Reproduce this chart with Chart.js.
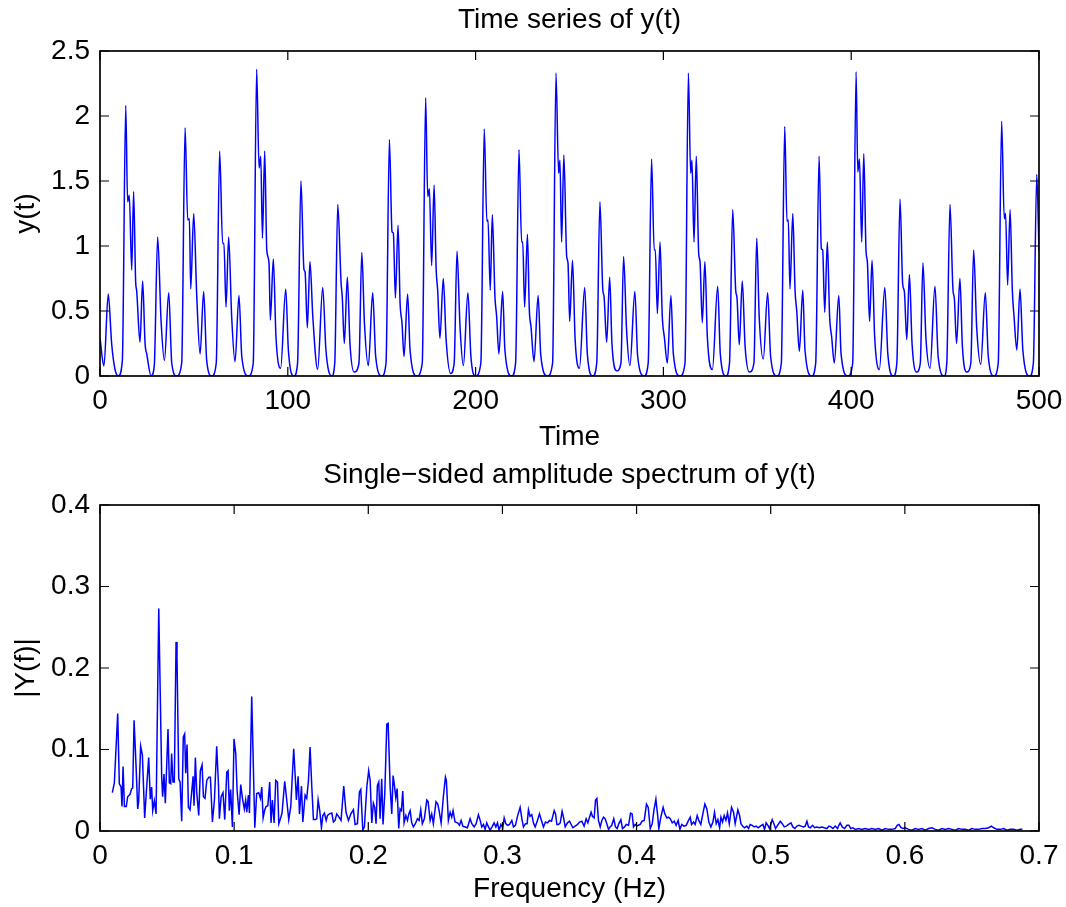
<!DOCTYPE html>
<html>
<head>
<meta charset="utf-8">
<script src="https://cdn.jsdelivr.net/npm/chart.js@4.4.1/dist/chart.umd.min.js"></script>
<style>
html, body { margin: 0; padding: 0; background: #ffffff; }
#wrap { position: relative; width: 1066px; height: 907px; overflow: hidden; }
canvas { position: absolute; left: 0; }
#c1 { top: 0; width: 1066px; height: 460px; }
#c2 { top: 450px; width: 1066px; height: 457px; }
</style>
</head>
<body>
<div id="wrap">
  <canvas id="c1" width="1066" height="460"></canvas>
  <canvas id="c2" width="1066" height="457"></canvas>
</div>
<script>
// ---------------- DATA ----------------
// Time series of y(t): sample times ...
const timeValues = [
  0, 2.1, 4.4, 6.2, 8.0, 9.8,
  11.9, 13.7, 14.7, 15.6, 16.9, 17.9, 19.0, 19.5, 21.3, 22.7, 24.0, 24.9, 27.2,
  28.9, 30.7, 32.5, 34.3, 36.6, 38.2, 40.8,
  43.5, 45.3, 46.7, 47.6, 48.3, 49.9, 51.5, 53.3, 55.2, 56.8, 59.5,
  61.9, 63.7, 65.3, 66.0, 67.1, 68.5, 70.1, 71.9, 74.0, 75.5, 79.0,
  81.6, 83.4, 84.7, 85.6, 86.5, 87.7, 88.8, 90.0, 90.7, 92.3, 93.7, 96.2, 98.9, 100.3, 103.3,
  105.2, 107.0, 108.6, 109.2, 110.4, 111.8, 113.3, 115.9, 118.6, 120.3, 123.4,
  125.0, 126.6, 128.4, 129.0, 130.1, 131.7, 133.1, 135.3,
  137.9, 139.4, 140.8, 142.9, 145.2, 146.8, 150.0,
  152.3, 154.1, 155.5, 156.2, 157.3, 158.7, 159.8, 160.8, 161.9, 163.8, 165.1, 168.7,
  171.6, 173.4, 174.5, 175.4, 176.6, 177.9, 179.0, 179.8, 181.0, 182.8, 184.3, 186.7,
  188.6, 190.1, 191.7, 193.5, 195.9, 197.5, 200.0,
  202.8, 204.6, 206.0, 206.6, 207.8, 208.9, 210.3, 211.2, 212.4, 214.4, 215.6, 219.2,
  221.3, 223.1, 224.5, 225.1, 226.1, 227.6, 228.6, 229.5, 231.1, 233.3, 234.7, 238.2,
  241.0, 242.8, 244.2, 244.9, 245.8, 247.0, 248.5, 249.2, 250.1, 251.6, 253.0, 255.3, 258.1, 259.5, 262.4,
  264.5, 266.2, 267.7, 268.4, 269.8, 271.4, 272.6, 275.2,
  277.4, 278.8, 280.4, 282.2, 284.8, 286.3, 289.7,
  291.9, 293.7, 295.1, 295.7, 296.8, 298.2, 299.4, 300.5, 302.1, 304.0, 305.3, 308.8,
  311.5, 313.3, 314.5, 315.2, 316.3, 317.5, 318.8, 319.5, 320.7, 322.1, 323.4, 326.1, 328.9, 330.3, 333.3,
  335.2, 336.9, 338.5, 339.2, 340.4, 342.0, 343.5, 345.8,
  348.2, 349.7, 351.0, 353.2, 355.5, 357.1, 360.4,
  362.8, 364.6, 365.8, 366.5, 367.4, 368.9, 370.1, 371.0, 372.4, 374.2, 375.4, 379.0,
  381.1, 382.9, 384.1, 384.8, 385.9, 387.3, 388.5, 389.6, 391.0, 393.4, 394.6, 398.2,
  400.8, 402.6, 403.5, 404.4, 405.6, 406.7, 407.9, 408.6, 409.8, 411.1, 412.5, 415.0, 417.9, 419.5, 422.5,
  424.3, 426.0, 427.4, 428.3, 429.6, 431.0, 432.4, 434.8,
  436.8, 438.2, 439.8, 442.0, 444.6, 446.3, 449.5,
  450.9, 452.6, 454.2, 454.9, 456.1, 457.9, 459.2, 461.5,
  463.7, 465.2, 466.8, 469.0, 471.4, 473.0, 476.0,
  478.3, 480.1, 481.5, 482.2, 483.3, 484.6, 485.8, 486.7, 488.2, 489.9, 491.4, 495.0,
  497.0, 498.8, 500.0
];
// ... and the matching values of y(t)
const yValues = [
  0.29, 0.077, 0.63, 0.25, 0.05, 0.0,
  0.12, 2.08, 1.34, 1.39, 0.815, 1.42, 0.72, 0.66, 0.26, 0.73, 0.25, 0.17, 0.0,
  0.08, 1.07, 0.43, 0.12, 0.64, 0.1, 0.0,
  0.1, 1.91, 1.2, 1.21, 0.67, 1.25, 0.62, 0.17, 0.65, 0.12, 0.0,
  0.1, 1.73, 1.02, 1.02, 0.53, 1.07, 0.46, 0.11, 0.62, 0.15, 0.0,
  0.1, 2.36, 1.6, 1.69, 1.06, 1.73, 0.97, 0.87, 0.43, 0.9, 0.3, 0.06, 0.67, 0.2, 0.0,
  0.1, 1.5, 0.82, 0.8, 0.37, 0.88, 0.46, 0.05, 0.68, 0.2, 0.0,
  0.1, 1.32, 0.71, 0.61, 0.25, 0.76, 0.25, 0.03,
  0.1, 0.95, 0.41, 0.08, 0.64, 0.15, 0.0,
  0.1, 1.82, 1.11, 1.1, 0.6, 1.16, 0.56, 0.41, 0.15, 0.63, 0.2, 0.0,
  0.1, 2.14, 1.38, 1.44, 0.85, 1.47, 0.82, 0.66, 0.29, 0.75, 0.28, 0.02,
  0.1, 0.96, 0.38, 0.08, 0.64, 0.15, 0.0,
  0.1, 1.9, 1.19, 1.2, 0.66, 1.24, 0.61, 0.46, 0.17, 0.65, 0.2, 0.0,
  0.1, 1.74, 1.03, 1.03, 0.53, 1.09, 0.51, 0.38, 0.11, 0.62, 0.16, 0.0,
  0.1, 2.33, 1.56, 1.66, 1.03, 1.7, 0.92, 0.87, 0.42, 0.89, 0.28, 0.06, 0.68, 0.17, 0.0,
  0.1, 1.34, 0.67, 0.61, 0.26, 0.76, 0.25, 0.04,
  0.1, 0.92, 0.35, 0.08, 0.65, 0.15, 0.0,
  0.1, 1.67, 0.97, 0.97, 0.48, 1.03, 0.46, 0.3, 0.1, 0.62, 0.17, 0.0,
  0.1, 2.33, 1.56, 1.66, 1.03, 1.69, 0.94, 0.88, 0.41, 0.88, 0.3, 0.05, 0.69, 0.17, 0.0,
  0.1, 1.28, 0.66, 0.6, 0.24, 0.73, 0.23, 0.03,
  0.1, 1.06, 0.46, 0.13, 0.64, 0.15, 0.0,
  0.1, 1.92, 1.19, 1.2, 0.67, 1.25, 0.66, 0.5, 0.19, 0.66, 0.2, 0.0,
  0.1, 1.69, 0.98, 0.97, 0.49, 1.03, 0.46, 0.3, 0.1, 0.62, 0.17, 0.0,
  0.1, 2.34, 1.57, 1.67, 1.03, 1.71, 0.96, 0.88, 0.42, 0.89, 0.3, 0.05, 0.68, 0.17, 0.0,
  0.1, 1.36, 0.71, 0.65, 0.28, 0.78, 0.25, 0.03,
  0.1, 0.87, 0.29, 0.06, 0.69, 0.15, 0.0,
  0.1, 1.32, 0.66, 0.6, 0.25, 0.75, 0.23, 0.03,
  0.1, 0.97, 0.38, 0.09, 0.64, 0.15, 0.0,
  0.1, 1.96, 1.21, 1.25, 0.7, 1.28, 0.66, 0.46, 0.2, 0.67, 0.2, 0.0,
  0.1, 1.55, 0.96
];

// Single-sided amplitude spectrum: frequencies (Hz) ...
const freqValues = [
  0.0092,0.0107,0.0132,0.0144,0.0157,0.0164,0.0172,0.0182,0.0196,0.0206,
  0.0224,0.0236,0.0244,0.0254,0.0269,0.0281,0.0288,0.0303,0.0316,0.0333,
  0.0348,0.0363,0.0375,0.0385,0.0393,0.0405,0.0418,0.0438,0.0460,0.0467,
  0.0477,0.0487,0.0507,0.0517,0.0527,0.0534,0.0544,0.0554,0.0567,0.0574,
  0.0587,0.0597,0.0609,0.0621,0.0631,0.0639,0.0649,0.0659,0.0671,0.0681,
  0.0694,0.0701,0.0711,0.0721,0.0736,0.0748,0.0761,0.0771,0.0783,0.0796,
  0.0811,0.0823,0.0838,0.0853,0.0870,0.0883,0.0890,0.0903,0.0917,0.0930,
  0.0945,0.0955,0.0964,0.0974,0.0987,0.0999,0.1012,0.1022,0.1037,0.1049,
  0.1062,0.1076,0.1086,0.1094,0.1106,0.1114,0.1131,0.1154,0.1168,0.1183,
  0.1196,0.1206,0.1216,0.1228,0.1238,0.1251,0.1265,0.1275,0.1285,0.1298,
  0.1310,0.1323,0.1333,0.1345,0.1357,0.1377,0.1387,0.1407,0.1422,0.1444,
  0.1457,0.1464,0.1477,0.1487,0.1502,0.1512,0.1529,0.1541,0.1554,0.1566,
  0.1579,0.1591,0.1606,0.1616,0.1626,0.1638,0.1651,0.1661,0.1673,0.1686,
  0.1696,0.1710,0.1728,0.1740,0.1752,0.1765,0.1778,0.1797,0.1817,0.1834,
  0.1852,0.1870,0.1889,0.1902,0.1919,0.1934,0.1944,0.1959,0.1971,0.1989,
  0.2003,0.2014,0.2026,0.2038,0.2048,0.2058,0.2068,0.2078,0.2088,0.2100,
  0.2110,0.2123,0.2138,0.2148,0.2163,0.2175,0.2185,0.2195,0.2205,0.2215,
  0.2227,0.2237,0.2247,0.2257,0.2267,0.2280,0.2292,0.2302,0.2312,0.2324,
  0.2336,0.2351,0.2366,0.2379,0.2391,0.2403,0.2418,0.2436,0.2446,0.2461,
  0.2473,0.2485,0.2505,0.2518,0.2528,0.2543,0.2560,0.2575,0.2582,0.2597,
  0.2610,0.2622,0.2632,0.2647,0.2665,0.2680,0.2692,0.2705,0.2722,0.2739,
  0.2759,0.2772,0.2789,0.2804,0.2821,0.2834,0.2846,0.2859,0.2871,0.2883,
  0.2896,0.2908,0.2923,0.2938,0.2951,0.2963,0.2975,0.2988,0.3003,0.3013,
  0.3025,0.3038,0.3053,0.3070,0.3082,0.3097,0.3112,0.3132,0.3147,0.3157,
  0.3172,0.3184,0.3194,0.3206,0.3219,0.3231,0.3244,0.3261,0.3276,0.3291,
  0.3306,0.3321,0.3336,0.3351,0.3366,0.3386,0.3396,0.3406,0.3418,0.3431,
  0.3445,0.3455,0.3468,0.3485,0.3500,0.3525,0.3542,0.3560,0.3575,0.3592,
  0.3609,0.3624,0.3637,0.3649,0.3661,0.3671,0.3684,0.3694,0.3704,0.3716,
  0.3729,0.3741,0.3753,0.3766,0.3778,0.3791,0.3803,0.3815,0.3830,0.3843,
  0.3855,0.3868,0.3883,0.3895,0.3910,0.3923,0.3940,0.3955,0.3967,0.3977,
  0.3989,0.4002,0.4014,0.4027,0.4041,0.4057,0.4074,0.4087,0.4102,0.4117,
  0.4129,0.4144,0.4156,0.4166,0.4181,0.4198,0.4211,0.4226,0.4238,0.4251,
  0.4266,0.4281,0.4295,0.4310,0.4323,0.4337,0.4353,0.4370,0.4387,0.4400,
  0.4410,0.4425,0.4437,0.4452,0.4464,0.4479,0.4494,0.4509,0.4524,0.4539,
  0.4554,0.4569,0.4581,0.4594,0.4606,0.4619,0.4629,0.4641,0.4653,0.4666,
  0.4678,0.4691,0.4708,0.4723,0.4735,0.4755,0.4768,0.4778,0.4790,0.4805,
  0.4822,0.4835,0.4847,0.4862,0.4877,0.4892,0.4907,0.4922,0.4942,0.4954,
  0.4966,0.4979,0.4991,0.5011,0.5024,0.5036,0.5051,0.5071,0.5086,0.5101,
  0.5116,0.5133,0.5151,0.5165,0.5180,0.5195,0.5212,0.5227,0.5245,0.5257,
  0.5270,0.5282,0.5295,0.5312,0.5327,0.5344,0.5361,0.5382,0.5399,0.5419,
  0.5434,0.5449,0.5464,0.5481,0.5498,0.5508,0.5518,0.5533,0.5550,0.5568,
  0.5583,0.5597,0.5612,0.5630,0.5655,0.5680,0.5704,0.5729,0.5754,0.5779,
  0.5804,0.5829,0.5854,0.5878,0.5903,0.5928,0.5943,0.5956,0.5971,0.5986,
  0.6003,0.6028,0.6053,0.6077,0.6102,0.6127,0.6152,0.6177,0.6202,0.6227,
  0.6252,0.6276,0.6301,0.6326,0.6351,0.6376,0.6401,0.6426,0.6450,0.6475,
  0.6500,0.6525,0.6550,0.6575,0.6600,0.6625,0.6645,0.6662,0.6687,0.6712,
  0.6736,0.6761,0.6786,0.6811,0.6836,0.6861,0.6876
];
// ... and the matching amplitudes |Y(f)|
const ampValues = [
  0.047,0.059,0.144,0.058,0.054,0.030,0.079,0.030,0.030,0.042,
  0.045,0.052,0.053,0.136,0.079,0.027,0.036,0.104,0.093,0.016,
  0.054,0.090,0.039,0.054,0.025,0.037,0.021,0.273,0.066,0.042,
  0.070,0.034,0.125,0.059,0.058,0.095,0.060,0.060,0.232,0.213,
  0.064,0.060,0.012,0.115,0.119,0.071,0.106,0.029,0.026,0.043,
  0.067,0.031,0.090,0.048,0.019,0.074,0.081,0.042,0.040,0.062,
  0.066,0.066,0.011,0.038,0.104,0.058,0.015,0.042,0.047,0.014,
  0.072,0.074,0.025,0.051,0.005,0.113,0.095,0.050,0.020,0.057,
  0.040,0.027,0.038,0.023,0.044,0.022,0.165,0.004,0.046,0.047,
  0.040,0.054,0.016,0.026,0.030,0.031,0.060,0.010,0.038,0.010,
  0.062,0.060,0.009,0.015,0.022,0.061,0.046,0.014,0.030,0.101,
  0.062,0.038,0.067,0.021,0.055,0.011,0.044,0.040,0.062,0.103,
  0.054,0.014,0.014,0.015,0.038,0.025,0.004,0.019,0.022,0.013,
  0.019,0.021,0.022,0.011,0.013,0.021,0.018,0.013,0.055,0.023,
  0.013,0.021,0.026,0.008,0.009,0.048,0.051,0.001,0.005,0.054,
  0.074,0.062,0.010,0.034,0.029,0.009,0.056,0.060,0.015,0.064,
  0.008,0.046,0.131,0.132,0.054,0.021,0.068,0.056,0.041,0.052,
  0.003,0.027,0.025,0.049,0.010,0.019,0.013,0.021,0.025,0.010,
  0.005,0.009,0.015,0.013,0.026,0.009,0.015,0.038,0.036,0.013,
  0.021,0.009,0.036,0.033,0.025,0.010,0.043,0.066,0.062,0.013,
  0.023,0.017,0.025,0.011,0.010,0.007,0.013,0.006,0.005,0.004,
  0.015,0.009,0.005,0.009,0.020,0.013,0.005,0.008,0.002,0.010,
  0.005,0.001,0.005,0.010,0.005,0.010,0.001,0.008,0.004,0.016,
  0.009,0.007,0.008,0.013,0.005,0.007,0.018,0.029,0.013,0.005,
  0.009,0.009,0.026,0.018,0.020,0.010,0.005,0.013,0.021,0.013,
  0.005,0.011,0.010,0.013,0.012,0.025,0.021,0.008,0.008,0.010,
  0.024,0.017,0.005,0.010,0.012,0.004,0.006,0.008,0.011,0.012,
  0.006,0.015,0.010,0.017,0.023,0.018,0.016,0.038,0.040,0.013,
  0.005,0.013,0.017,0.015,0.009,0.002,0.005,0.007,0.015,0.005,
  0.003,0.009,0.014,0.003,0.005,0.008,0.007,0.022,0.021,0.005,
  0.008,0.006,0.007,0.008,0.012,0.013,0.033,0.029,0.003,0.009,
  0.025,0.039,0.021,0.003,0.017,0.029,0.021,0.016,0.017,0.015,
  0.010,0.012,0.007,0.013,0.002,0.008,0.006,0.007,0.013,0.017,
  0.008,0.011,0.008,0.019,0.013,0.008,0.021,0.033,0.027,0.011,
  0.005,0.011,0.023,0.009,0.014,0.004,0.017,0.011,0.019,0.013,
  0.022,0.009,0.029,0.023,0.009,0.026,0.019,0.009,0.006,0.004,
  0.006,0.003,0.008,0.007,0.005,0.006,0.004,0.006,0.008,0.002,
  0.010,0.007,0.003,0.014,0.009,0.003,0.007,0.012,0.009,0.005,
  0.006,0.008,0.010,0.005,0.003,0.006,0.007,0.006,0.005,0.006,
  0.012,0.005,0.004,0.007,0.004,0.005,0.004,0.005,0.004,0.003,
  0.006,0.005,0.003,0.006,0.003,0.007,0.010,0.005,0.003,0.007,
  0.007,0.003,0.004,0.002,0.003,0.002,0.003,0.002,0.003,0.002,
  0.003,0.001,0.003,0.002,0.002,0.003,0.007,0.008,0.004,0.003,
  0.004,0.002,0.001,0.003,0.002,0.003,0.001,0.003,0.004,0.002,
  0.001,0.003,0.002,0.003,0.002,0.001,0.003,0.002,0.002,0.001,
  0.003,0.002,0.002,0.003,0.003,0.004,0.006,0.004,0.002,0.002,
  0.003,0.001,0.002,0.002,0.001,0.002,0.002
];

// Axis ticks
const timeTicks = [0, 100, 200, 300, 400, 500];
const timeTickLabels = ['0', '100', '200', '300', '400', '500'];
const yTicks = [0, 0.5, 1, 1.5, 2, 2.5];
const yTickLabels = ['0', '0.5', '1', '1.5', '2', '2.5'];
const freqTicks = [0, 0.1, 0.2, 0.3, 0.4, 0.5, 0.6, 0.7];
const freqTickLabels = ['0', '0.1', '0.2', '0.3', '0.4', '0.5', '0.6', '0.7'];
const ampTicks = [0, 0.1, 0.2, 0.3, 0.4];
const ampTickLabels = ['0', '0.1', '0.2', '0.3', '0.4'];

// ---------------- RENDERING ----------------
const FONT = '"Liberation Sans", Arial, Helvetica, sans-serif';
const FS = 28;
Chart.defaults.font.family = FONT;
Chart.defaults.font.size = FS;
Chart.defaults.color = '#000';

function toPoints(xs, ys) {
  const n = Math.min(xs.length, ys.length);
  const pts = [];
  for (let i = 0; i < n; i++) pts.push({ x: xs[i], y: ys[i] });
  return pts;
}

const matlabBox = {
  id: 'matlabBox',
  afterDatasetsDraw(chart) {
    const { ctx, chartArea: a, scales } = chart;
    const L = 9;
    ctx.save();
    ctx.strokeStyle = '#000';
    ctx.lineWidth = 1.2;
    ctx.beginPath();
    scales.x.ticks.forEach(t => {
      const px = scales.x.getPixelForValue(t.value);
      ctx.moveTo(px, a.bottom); ctx.lineTo(px, a.bottom - L);
      ctx.moveTo(px, a.top); ctx.lineTo(px, a.top + L);
    });
    scales.y.ticks.forEach(t => {
      const py = scales.y.getPixelForValue(t.value);
      ctx.moveTo(a.left, py); ctx.lineTo(a.left + L, py);
      ctx.moveTo(a.right, py); ctx.lineTo(a.right - L, py);
    });
    ctx.stroke();
    ctx.lineWidth = 1.7;
    ctx.strokeRect(a.left, a.top, a.right - a.left, a.bottom - a.top);
    ctx.restore();
  }
};

function makeChart(id, cfg) {
  return new Chart(document.getElementById(id), {
    type: 'line',
    data: {
      datasets: [{
        data: cfg.points,
        borderColor: '#0000ff',
        borderWidth: 1.5,
        pointRadius: 0,
        fill: false,
        tension: cfg.monotone ? 0.4 : 0,
        cubicInterpolationMode: cfg.monotone ? 'monotone' : 'default'
      }]
    },
    options: {
      responsive: false,
      animation: false,
      devicePixelRatio: 1,
      layout: { padding: { left: 0, right: 27, top: 0, bottom: 0 } },
      plugins: {
        legend: { display: false },
        tooltip: { enabled: false },
        title: {
          display: true,
          text: cfg.title,
          fullSize: false,
          color: '#000',
          font: { family: FONT, size: FS, weight: 'normal' },
          padding: cfg.titlePad
        }
      },
      scales: {
        x: {
          type: 'linear',
          min: cfg.xTicks[0],
          max: cfg.xTicks[cfg.xTicks.length - 1],
          grid: { display: false, drawTicks: false },
          border: { display: false },
          afterBuildTicks: s => { s.ticks = cfg.xTicks.map(v => ({ value: v })); },
          afterFit: s => { s.height = cfg.xAxisHeight; s.paddingRight = 0; s.paddingLeft = 0; },
          ticks: {
            padding: 8,
            maxRotation: 0,
            autoSkip: false,
            color: '#000',
            font: { family: FONT, size: FS },
            callback: (v, i) => cfg.xLabels[i]
          },
          title: {
            display: true,
            text: cfg.xTitle,
            color: '#000',
            font: { family: FONT, size: FS },
            padding: { top: 0, bottom: cfg.xTitlePad }
          }
        },
        y: {
          type: 'linear',
          min: cfg.yTicks[0],
          max: cfg.yTicks[cfg.yTicks.length - 1],
          grid: { display: false, drawTicks: false },
          border: { display: false },
          afterBuildTicks: s => { s.ticks = cfg.yTicks.map(v => ({ value: v })); },
          afterFit: s => { s.width = 100; s.paddingTop = 0; s.paddingBottom = 0; },
          ticks: {
            padding: 10,
            autoSkip: false,
            color: '#000',
            font: { family: FONT, size: FS },
            callback: (v, i) => cfg.yLabels[i]
          },
          title: {
            display: true,
            text: cfg.yTitle,
            color: '#000',
            font: { family: FONT, size: FS },
            padding: { top: 9, bottom: 0 }
          }
        }
      }
    },
    plugins: [matlabBox]
  });
}

makeChart('c1', {
  points: toPoints(timeValues, yValues),
  monotone: true,
  title: 'Time series of y(t)',
  titlePad: { top: 3.2, bottom: 14.2 },
  xTicks: timeTicks, xLabels: timeTickLabels,
  yTicks: yTicks, yLabels: yTickLabels,
  xTitle: 'Time', yTitle: 'y(t)',
  xAxisHeight: 84, xTitlePad: 6
});

makeChart('c2', {
  points: toPoints(freqValues, ampValues),
  monotone: false,
  title: 'Single\u2212sided amplitude spectrum of y(t)',
  titlePad: { top: 8.2, bottom: 13.2 },
  xTicks: freqTicks, xLabels: freqTickLabels,
  yTicks: ampTicks, yLabels: ampTickLabels,
  xTitle: 'Frequency (Hz)', yTitle: '|Y(f)|',
  xAxisHeight: 76, xTitlePad: 1
});
</script>
</body>
</html>
